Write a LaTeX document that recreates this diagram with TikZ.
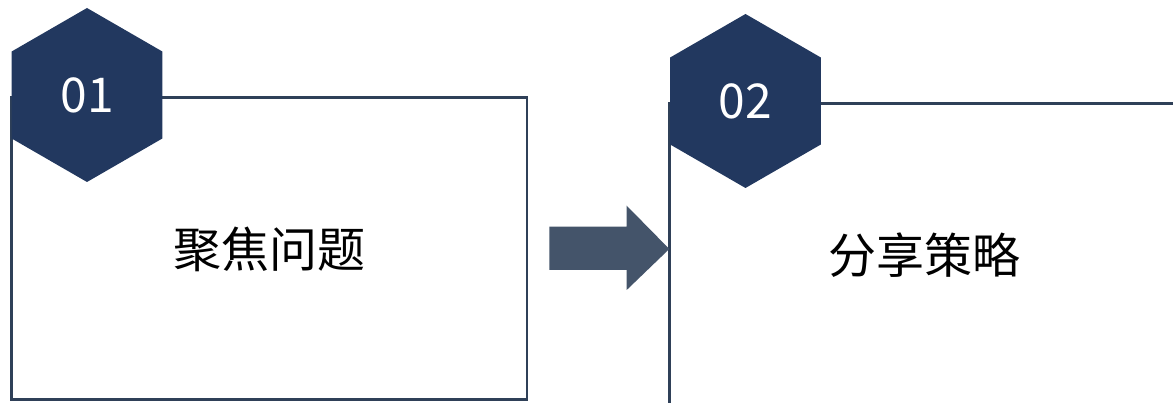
\documentclass[tikz,border=0pt]{standalone}
\usepackage{fontspec}
\setmainfont{Noto Sans CJK SC}
\usetikzlibrary{shapes.geometric}
\definecolor{hexblue}{HTML}{22385F}
\definecolor{arrowgray}{HTML}{44546A}
\definecolor{linecol}{HTML}{2F4058}
\tikzset{
  hexnode/.style={regular polygon, regular polygon sides=6, shape border rotate=30, minimum size=174pt, inner sep=0pt, fill=hexblue, draw=none, text=white, font=\fontsize{48}{48}\selectfont},
  framebox/.style={draw=linecol, line width=2.2pt},
  label/.style={font=\fontsize{48}{48}\selectfont, text=black, inner sep=0pt},
  bigarrow/.style={fill=arrowgray, draw=none}
}
\begin{document}
\begin{tikzpicture}[x=1pt,y=-1pt]
\useasboundingbox (0,0) rectangle (1173,403);
% box 1
\draw[framebox] (11.5,97.5) rectangle (527,399.5);
% box 2 (open to the right and bottom)
\draw[framebox] (669.5,420) -- (669.5,103.5) -- (1190,103.5);
% hexagons
\node[hexnode] (h1) at (87,95) {01};
\node[hexnode] (h2) at (745.5,101) {02};
% labels
\node[label] (t1) at (269,249) {聚焦问题};
\node[label] (t2) at (924,255) {分享策略};
% block arrow
\coordinate (tip) at (669.3,249);
\fill[bigarrow] (549.3,226.7) -- (626.7,226.7) -- (626.7,205.7) -- (tip) -- (626.7,290) -- (626.7,270) -- (549.3,270) -- cycle;
\end{tikzpicture}
\end{document}
